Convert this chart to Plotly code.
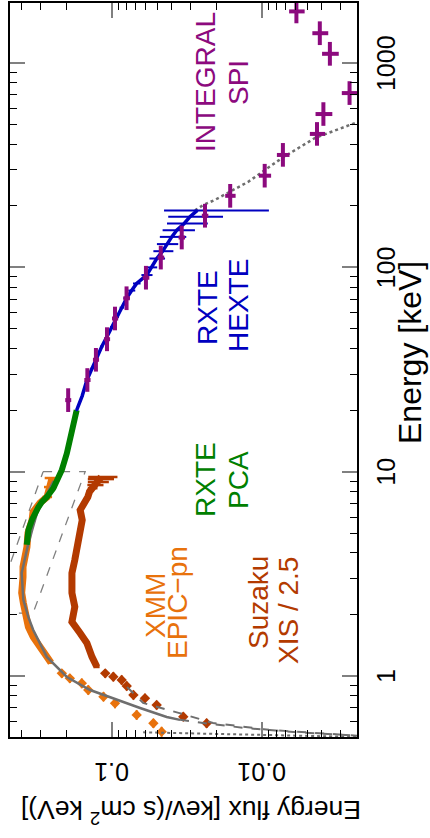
import math
import plotly.graph_objects as go

# ---------------- data (flux in keV/(s cm^2 keV), energy in keV) ----------------
# XMM EPIC-pn, dense part
xmm_energy = [9.31, 8.41, 7.52, 7.03, 6.35, 5.80, 5.01, 4.28, 3.82, 3.42, 3.05, 2.55, 2.28, 2.03, 1.74, 1.55, 1.39, 1.24, 1.16]
xmm_flux = [0.251, 0.259, 0.271, 0.302, 0.336, 0.341, 0.363, 0.369, 0.380, 0.392, 0.392, 0.400, 0.390, 0.380, 0.361, 0.335, 0.302, 0.272, 0.255]
xmm_flux_err = [0.03, 0.025, 0.02, 0.012, 0.01, 0.008, 0.008, 0.008, 0.008, 0.008, 0.008, 0.008, 0.008, 0.008, 0.008, 0.008, 0.008, 0.008, 0.008]
# XMM EPIC-pn, low-energy bins
xmm_low_energy = [1.03, 0.974, 0.921, 0.854, 0.792, 0.735, 0.645, 0.587, 0.534]
xmm_low_flux = [0.216, 0.191, 0.159, 0.144, 0.114, 0.0955, 0.0685, 0.053, 0.0467]
xmm_low_eerr = [0.05, 0.05, 0.05, 0.045, 0.04, 0.04, 0.035, 0.03, 0.03]

# Suzaku XIS / 2.5, dense part
suz_energy = [9.42, 9.2, 8.9, 8.6, 8.3, 8.0, 7.52, 6.49, 5.80, 5.01, 4.28, 3.70, 3.19, 2.55, 2.18, 1.84, 1.62, 1.45, 1.24, 1.107]
suz_flux = [0.118, 0.121, 0.125, 0.130, 0.135, 0.141, 0.145, 0.163, 0.158, 0.163, 0.171, 0.177, 0.185, 0.185, 0.177, 0.185, 0.163, 0.147, 0.136, 0.126]
suz_flux_err = [0.026, 0.024, 0.02, 0.016, 0.01, 0.007, 0.006, 0.006, 0.006, 0.006, 0.006, 0.006, 0.006, 0.006, 0.006, 0.006, 0.005, 0.005, 0.005, 0.005]
# Suzaku low-energy bins
suz_low_energy = [1.03, 0.992, 0.956, 0.894, 0.807, 0.778, 0.721, 0.632, 0.587]
suz_low_flux = [0.111, 0.098, 0.0862, 0.0798, 0.072, 0.0603, 0.0504, 0.0335, 0.0234]
suz_low_eerr = [0.05, 0.05, 0.05, 0.045, 0.04, 0.04, 0.035, 0.03, 0.03]

# RXTE PCA
pca_energy = [4.39, 5.18, 5.80, 6.35, 6.70, 7.10, 7.52, 8.30, 9.31, 10.2, 12.3, 14.5, 17.9, 20.0]
pca_flux = [0.370, 0.361, 0.342, 0.326, 0.310, 0.294, 0.272, 0.246, 0.228, 0.216, 0.200, 0.191, 0.181, 0.172]

# RXTE HEXTE
hexte_energy = [20.0, 23.5, 28.1, 32.0, 36.6, 41.0, 45.8, 51.0, 57.2, 63.5, 70.6, 77.0, 83.4, 91.7, 100.0, 110.5, 120.0, 130.0, 141.0, 152.0, 164.0, 177.0, 190.0]
hexte_flux = [0.172, 0.158, 0.147, 0.136, 0.126, 0.117, 0.108, 0.100, 0.093, 0.086, 0.080, 0.074, 0.0685, 0.0587, 0.055, 0.0503, 0.046, 0.0432, 0.040, 0.037, 0.033, 0.0302, 0.027]
hexte_flux_err = [0.003, 0.003, 0.003, 0.003, 0.003, 0.003, 0.003, 0.003, 0.003, 0.003, 0.004, 0.004, 0.004, 0.005, 0.005, 0.006, 0.007, 0.007, 0.008, 0.009, 0.010, 0.012, 0.018]

# INTEGRAL SPI
spi_energy = [22.4, 28.1, 35.3, 44.5, 56.2, 70.6, 89.0, 111.7, 140.0, 179.0, 224.0, 281.0, 355.0, 450.0, 563.0, 713.0, 1110.0, 1400.0, 1790.0]
spi_flux = [0.196, 0.146, 0.128, 0.108, 0.0955, 0.080, 0.0594, 0.0473, 0.0343, 0.024, 0.0163, 0.0096, 0.00726, 0.0043, 0.0039, 0.00261, 0.00353, 0.00412, 0.0059]
spi_flux_err = [0.009, 0.007, 0.006, 0.005, 0.0045, 0.004, 0.003, 0.0024, 0.0017, 0.0012, 0.0013, 0.0009, 0.0007, 0.0005, 0.0005, 0.00033, 0.00045, 0.0005, 0.0007]
spi_e_err_plus = [3.2, 4.0, 5.0, 6.4, 8.0, 10.1, 12.7, 16.0, 20.0, 25.6, 32.0, 40.0, 51.0, 64.0, 80.0, 102.0, 159.0, 200.0, 256.0]
spi_e_err_minus = [2.8, 3.5, 4.4, 5.6, 7.0, 8.8, 11.1, 14.0, 17.5, 22.4, 28.0, 35.0, 44.0, 56.0, 70.0, 89.0, 139.0, 175.0, 224.0]

# model curves
model_xmm_energy = [9.0, 7.5, 6.28, 5.18, 4.3, 3.19, 2.36, 1.94, 1.68, 1.24, 0.989, 0.854, 0.763, 0.697, 0.63, 0.61]
model_xmm_flux = [0.245, 0.28, 0.316, 0.341, 0.365, 0.40, 0.39, 0.361, 0.335, 0.272, 0.200, 0.140, 0.093, 0.065, 0.0432, 0.0352]
model_xmm_ext_energy = [0.61, 0.585, 0.555, 0.53, 0.51]
model_xmm_ext_flux = [0.0352, 0.0232, 0.0125, 0.0058, 0.0023]
model_suz_energy = [0.884, 0.80, 0.738, 0.66, 0.589, 0.545, 0.51]
model_suz_flux = [0.0794, 0.069, 0.0621, 0.036, 0.0212, 0.009, 0.0023]
model_abs_energy = [0.53, 0.515, 0.503]
model_abs_flux = [0.062, 0.01, 0.0023]
model_hi_energy = [190.0, 202.0, 214.0, 230.0, 262.0, 343.0, 430.0, 509.0]
model_hi_flux = [0.028, 0.0246, 0.0206, 0.0172, 0.0124, 0.00736, 0.00443, 0.0024]

# dashed band outline (2-10 keV)
band_energy = [10.0, 10.0, 2.03, 2.03, 10.0]
band_flux = [0.288, 0.151, 0.336, 0.626, 0.288]

# axis ticks
flux_ticks = [0.01, 0.1]
flux_tick_text = ["0.01", "0.1"]
energy_ticks = [1, 10, 100, 1000]
energy_tick_text = ["1", "10", "100", "1000"]

# ---------------- styling ----------------
ORANGE = "#E8720C"
SUZ = "#B33A00"
GREEN = "#008000"
BLUE = "#0000C0"
PURPLE = "#8C0A7E"
GRAY = "#6E6E6E"
FONT = "Liberation Sans, Arial, Helvetica, sans-serif"


def hbars(fl, en, err):
    xs, ys = [], []
    for f, e, d in zip(fl, en, err):
        xs += [f - d, f + d, None]
        ys += [e, e, None]
    return xs, ys


fig = go.Figure()

fig.add_trace(go.Scatter(x=band_flux, y=band_energy, mode="lines",
                         line=dict(color="#808080", width=1.3, dash="dash")))

# Suzaku
bx, by = hbars(suz_flux, suz_energy, suz_flux_err)
fig.add_trace(go.Scatter(x=bx, y=by, mode="lines", line=dict(color=SUZ, width=2.5)))
fig.add_trace(go.Scatter(x=suz_flux, y=suz_energy, mode="lines", line=dict(color=SUZ, width=7)))
fig.add_trace(go.Scatter(x=suz_low_flux, y=suz_low_energy, mode="markers",
                         marker=dict(color=SUZ, symbol="diamond", size=8),
                         error_y=dict(type="data", array=suz_low_eerr, color=SUZ, thickness=2, width=0)))

# XMM
bx, by = hbars(xmm_flux, xmm_energy, xmm_flux_err)
fig.add_trace(go.Scatter(x=bx, y=by, mode="lines", line=dict(color=ORANGE, width=2.5)))
fig.add_trace(go.Scatter(x=xmm_flux, y=xmm_energy, mode="lines", line=dict(color=ORANGE, width=7)))
fig.add_trace(go.Scatter(x=xmm_low_flux, y=xmm_low_energy, mode="markers",
                         marker=dict(color=ORANGE, symbol="diamond", size=8),
                         error_y=dict(type="data", array=xmm_low_eerr, color=ORANGE, thickness=2, width=0)))

# models
fig.add_trace(go.Scatter(x=model_xmm_flux, y=model_xmm_energy, mode="lines",
                         line=dict(color=GRAY, width=2.5)))
fig.add_trace(go.Scatter(x=model_xmm_ext_flux, y=model_xmm_ext_energy, mode="lines",
                         line=dict(color=GRAY, width=2, dash="dash")))
fig.add_trace(go.Scatter(x=model_suz_flux, y=model_suz_energy, mode="lines",
                         line=dict(color=GRAY, width=2, dash="dash")))
fig.add_trace(go.Scatter(x=model_abs_flux, y=model_abs_energy, mode="lines",
                         line=dict(color=GRAY, width=2, dash="dot")))
fig.add_trace(go.Scatter(x=model_hi_flux, y=model_hi_energy, mode="lines",
                         line=dict(color=GRAY, width=2.5, dash="dot")))

# PCA
fig.add_trace(go.Scatter(x=pca_flux, y=pca_energy, mode="lines",
                         line=dict(color=GREEN, width=6)))

# HEXTE
bx, by = hbars(hexte_flux, hexte_energy, hexte_flux_err)
fig.add_trace(go.Scatter(x=bx, y=by, mode="lines", line=dict(color=BLUE, width=2)))
fig.add_trace(go.Scatter(x=hexte_flux, y=hexte_energy, mode="lines",
                         line=dict(color=BLUE, width=3.5)))

# SPI
fig.add_trace(go.Scatter(x=spi_flux, y=spi_energy, mode="markers",
                         marker=dict(color=PURPLE, size=4),
                         error_x=dict(type="data", array=spi_flux_err, color=PURPLE, thickness=4, width=0),
                         error_y=dict(type="data", array=spi_e_err_plus, arrayminus=spi_e_err_minus,
                                      color=PURPLE, thickness=4, width=0)))

minor_vals = [m * 10 ** k for k in range(-4, 5) for m in range(2, 10)]
axis_common = dict(type="log", ticks="inside", ticklen=15, tickwidth=2, tickcolor="#808080",
                   showline=True, linecolor="black", linewidth=1.5, mirror="allticks",
                   showgrid=False, zeroline=False, automargin=False, showticklabels=False,
                   minor=dict(ticks="inside", ticklen=7, tickwidth=1, tickcolor="black",
                              tickmode="array", tickvals=minor_vals, showgrid=False))

fig.update_xaxes(range=[-0.32, -2.633], tickmode="array", tickvals=flux_ticks, **axis_common)
fig.update_yaxes(range=[-0.2986, 3.294], side="right", tickmode="array",
                 tickvals=energy_ticks, **axis_common)

X0, X1, Y0, Y1 = 10, 357, 3, 737


def px(xp, yp):
    return (xp - X0) / (X1 - X0), (Y1 - yp) / (Y1 - Y0)


# tick labels (rotated like the reference)
for v, t in zip(energy_ticks, energy_tick_text):
    fig.add_annotation(x=px(386, 0)[0], xref="paper", y=math.log10(v), yref="y", text=t,
                       showarrow=False, textangle=-90, xanchor="center", yanchor="middle",
                       font=dict(size=25, color="black", family=FONT))
for v, t in zip(flux_ticks, flux_tick_text):
    fig.add_annotation(x=math.log10(v), xref="x", y=px(0, 772)[1], yref="paper", text=t,
                       showarrow=False, textangle=180, xanchor="center", yanchor="middle",
                       font=dict(size=25, color="black", family=FONT))

labels = [
    ("INTEGRAL", 206, 82, PURPLE),
    ("SPI", 238, 83, PURPLE),
    ("RXTE", 207, 308, BLUE),
    ("HEXTE", 238, 306, BLUE),
    ("RXTE", 205, 480, GREEN),
    ("PCA", 238, 480, GREEN),
    ("XMM", 155, 606, ORANGE),
    ("EPIC\u2212pn", 177, 603, ORANGE),
    ("Suzaku", 258, 603, SUZ),
    ("XIS / 2.5", 288, 611, SUZ),
]
for txt, xp, yp, col in labels:
    ax, ay = px(xp, yp)
    fig.add_annotation(x=ax, y=ay, xref="paper", yref="paper", text=txt, showarrow=False,
                       textangle=-90, xanchor="center", yanchor="middle",
                       font=dict(size=28, color=col, family=FONT))

ax, ay = px(410, 353)
fig.add_annotation(x=ax, y=ay, xref="paper", yref="paper", text="Energy [keV]", showarrow=False,
                   textangle=-90, xanchor="center", yanchor="middle",
                   font=dict(size=32, color="black", family=FONT))
ax, ay = px(191, 812)
fig.add_annotation(x=ax, y=ay, xref="paper", yref="paper",
                   text="Energy flux [kev/(s cm<sup>2</sup> keV)]", showarrow=False,
                   textangle=180, xanchor="center", yanchor="middle",
                   font=dict(size=26.5, color="black", family=FONT))

fig.update_layout(width=430, height=838, margin=dict(l=10, r=73, t=3, b=101),
                  plot_bgcolor="white", paper_bgcolor="white", showlegend=False,
                  font=dict(family=FONT, color="black"))

fig.write_html("out.html", config={"displayModeBar": False},
               post_script="document.body.style.margin='0';document.body.style.overflow='hidden';")
